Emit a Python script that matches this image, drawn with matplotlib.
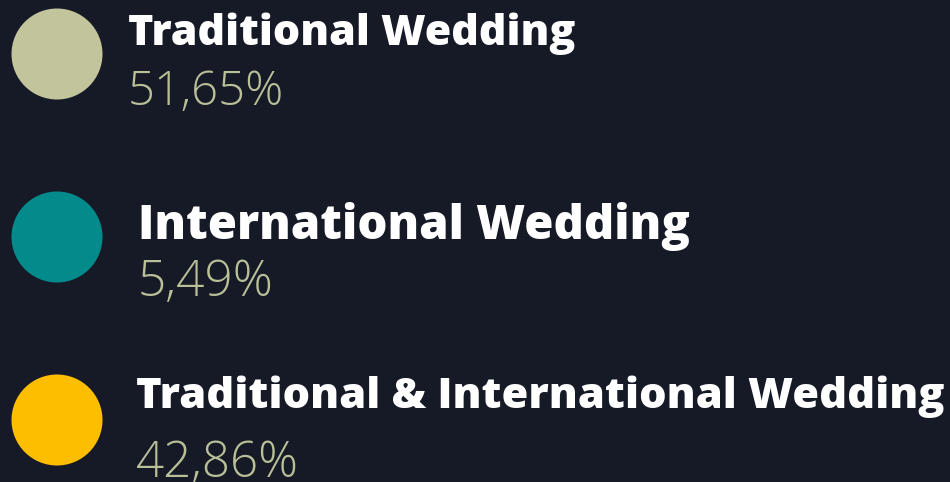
import matplotlib.pyplot as plt
from matplotlib.patches import Circle

# data
labels = ["Traditional Wedding", "International Wedding",
          "Traditional & International Wedding"]
shares = [51.65, 5.49, 42.86]
colors = ["#c2c59b", "#038b8b", "#fdbe00"]

BG = "#161a27"
PCT_COLOR = "#b9bf97"

# layout in pixels (figure is 950x482 at 100 dpi)
row_y = [54, 237, 420]
text_x = [128, 138, 136]
title_base = [45, 239, 408]
pct_base = [105, 296, 477]
title_size = [31, 34, 31.2]
pct_size = [34, 35.8, 35.5]

fig = plt.figure(figsize=(9.5, 4.82), dpi=100)
fig.patch.set_facecolor(BG)
ax = fig.add_axes([0, 0, 1, 1])
ax.set_facecolor(BG)
ax.set_xlim(0, 950)
ax.set_ylim(482, 0)
ax.set_aspect("equal")
ax.axis("off")

for i, (lab, val, col) in enumerate(zip(labels, shares, colors)):
    ax.add_patch(Circle((57, row_y[i]), 45.5, color=col, lw=0))
    ax.text(text_x[i], title_base[i], lab, color="white",
            fontsize=title_size[i], fontweight="extra bold",
            family="Open Sans", va="baseline", ha="left")
    pct = f"{val:.2f}".replace(".", ",") + "%"
    ax.text(text_x[i], pct_base[i], pct, color=PCT_COLOR,
            fontsize=pct_size[i], fontweight="light",
            family="Open Sans", va="baseline", ha="left")

fig.savefig("out.png", dpi=100, facecolor=BG)
